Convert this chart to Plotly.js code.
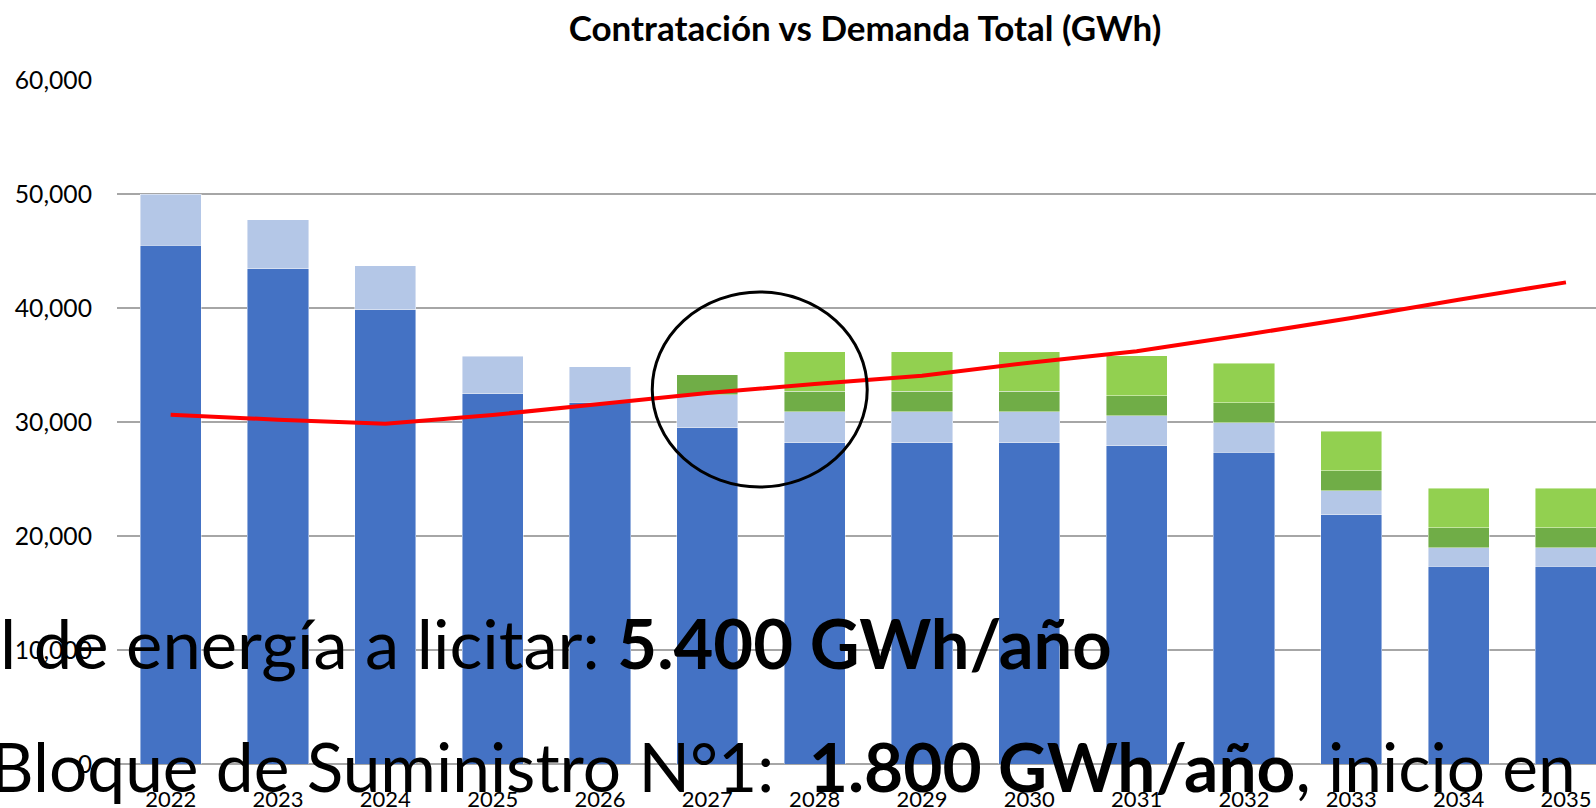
<!DOCTYPE html>
<html>
<head>
<meta charset="utf-8">
<script src="https://cdn.plot.ly/plotly-3.0.1.min.js"></script>
<style>
  html, body { margin: 0; padding: 0; background: #ffffff; overflow: hidden; }
  #chart { width: 1596px; height: 808px; }
</style>
</head>
<body>
<div id="chart"></div>
<script>
// ---- data (GWh) ----
const years = ['2022','2023','2024','2025','2026','2027','2028','2029','2030','2031','2032','2033','2034','2035'];
const contratosVigentes    = [45500, 43450, 39850, 32480, 31750, 29500, 28200, 28200, 28200, 27920, 27330, 21870, 17330, 17330];
const contratosAdicionales = [4500, 4270, 3860, 3280, 3080, 2900, 2700, 2700, 2700, 2630, 2610, 2100, 1640, 1640];
const bloqueSuministro1    = [null, null, null, null, null, 1750, 1800, 1800, 1800, 1760, 1750, 1760, 1760, 1760];
const bloqueSuministro2    = [null, null, null, null, null, null, 3450, 3450, 3450, 3480, 3450, 3450, 3450, 3450];
const demandaTotal         = [30640, 30200, 29850, 30620, 31580, 32540, 33330, 34060, 35200, 36200, 37630, 39120, 40730, 42250];

const yTickVals = [0, 10000, 20000, 30000, 40000, 50000, 60000];
const yTickText = ['0', '10,000', '20,000', '30,000', '40,000', '50,000', '60,000'];

const titleText = 'Contratación vs Demanda Total (GWh)';
const overlayLine1 = 'l de energía a licitar: <b>5.400 GWh/año</b>';
const overlayLine2 = 'Bloque de Suministro N°1:\u00a0 <b>1.800 GWh/año</b>, inicio en';

const FONT = 'Lato, "Open Sans", sans-serif';
const barLine = { color: 'rgba(255,255,255,0.55)', width: 0.8 };

function barTrace(name, values, color) {
  return { type: 'bar', name: name, x: years, y: values,
           marker: { color: color, line: barLine }, hoverinfo: 'x+y+name' };
}

const traces = [
  barTrace('Contratos vigentes', contratosVigentes, '#4472C4'),
  barTrace('Contratos adicionales', contratosAdicionales, '#B4C7E7'),
  barTrace('Bloque de Suministro N°1', bloqueSuministro1, '#70AD47'),
  barTrace('Bloque de Suministro N°2', bloqueSuministro2, '#92D050'),
  { type: 'scatter', mode: 'lines', name: 'Demanda Total', x: years, y: demandaTotal,
    line: { color: '#FF0000', width: 4 } }
];

const layout = {
  width: 1596, height: 808,
  margin: { l: 117, r: 0, t: 80, b: 44, pad: 0 },
  paper_bgcolor: '#ffffff', plot_bgcolor: '#ffffff',
  barmode: 'stack', bargap: 0.43,
  showlegend: false,
  title: {
    text: titleText,
    font: { family: FONT, size: 35, color: '#000000', weight: 700 },
    x: 0.542, xref: 'container', xanchor: 'center',
    y: 1 - 29 / 808, yref: 'container', yanchor: 'middle'
  },
  xaxis: {
    type: 'category', range: [-0.5, 13.28],
    showgrid: false, showline: false, zeroline: false, ticks: '',
    tickfont: { family: FONT, size: 22, color: '#000000' },
    ticklabelstandoff: 20, fixedrange: true
  },
  yaxis: {
    range: [0, 60000], tickvals: yTickVals, ticktext: yTickText,
    showgrid: true, gridcolor: '#a6a6a6', gridwidth: 1.3,
    zeroline: true, zerolinecolor: '#a6a6a6', zerolinewidth: 1.3,
    showline: false, ticks: '',
    tickfont: { family: FONT, size: 24.7, color: '#000000' },
    ticklabelstandoff: 24, fixedrange: true
  },
  shapes: [{
    type: 'circle', xref: 'x', yref: 'y', layer: 'above',
    x0: 4.487, x1: 6.49, y0: 24300, y1: 41400,
    line: { color: '#000000', width: 3 }, fillcolor: 'rgba(0,0,0,0)'
  }],
  annotations: [
    { text: overlayLine1, showarrow: false, xref: 'paper', yref: 'paper',
      x: 0, y: 0, xanchor: 'left', yanchor: 'middle', xshift: -119, yshift: 122,
      font: { family: FONT, size: 68.7, color: '#000000' } },
    { text: overlayLine2, showarrow: false, xref: 'paper', yref: 'paper',
      x: 0, y: 0, xanchor: 'left', yanchor: 'middle', xshift: -129, yshift: -1,
      font: { family: FONT, size: 67.6, color: '#000000' } }
  ]
};

Plotly.newPlot('chart', traces, layout, { displayModeBar: false, staticPlot: true });
</script>
</body>
</html>
